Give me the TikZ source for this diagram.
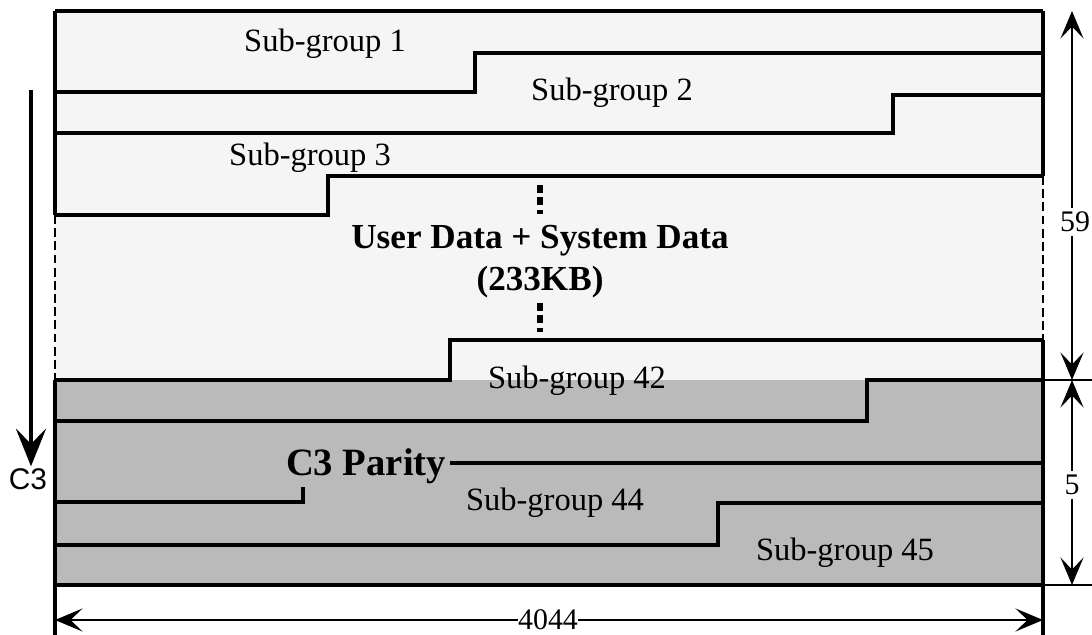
\documentclass[tikz,border=0pt]{standalone}
\usepackage{fontspec}
\setmainfont{Liberation Serif}
\setsansfont{Liberation Sans}
\usetikzlibrary{arrows.meta}

\begin{document}
\begin{tikzpicture}[x=0.2mm,y=-0.2mm,>={Stealth[length=5.5mm,width=4.6mm,inset=2.4mm]}]
    \tikzstyle{frame}=[line width=2.2pt]
    \tikzstyle{gap}=[line width=1.6pt,dash pattern=on 5pt off 2.5pt]
    \tikzstyle{dimline}=[line width=1.3pt]
    \tikzstyle{sglabel}=[inner sep=1pt,font=\fontsize{18.5}{20}\selectfont]
    \tikzstyle{dimtext}=[inner sep=2pt,font=\fontsize{17}{19}\selectfont]
    \tikzstyle{bigtext}=[inner sep=1pt,font=\bfseries\fontsize{20}{24}\selectfont,align=center]
    \tikzstyle{vdots}=[line width=3pt,dash pattern=on 4.5pt off 2.5pt]

    \useasboundingbox (0,0) rectangle (1092,635);

    \begin{scope}
      % data and parity areas
      \fill[black!4] (55,11) rectangle (1043,380);
      \fill[black!27] (55,380) rectangle (1043,585);

      % sub-group boundaries
      \draw[frame] (55,11) -- (1043,11);
      \draw[frame] (55,92) -- (475,92) -- (475,53) -- (1043,53);
      \draw[frame] (55,133) -- (893,133) -- (893,95) -- (1043,95);
      \draw[frame] (55,215) -- (328,215) -- (328,176) -- (1043,176);
      \draw[frame] (55,380) -- (450,380) -- (450,340) -- (1043,340);
      \draw[frame] (55,421) -- (867,421) -- (867,380) -- (1043,380);
      \draw[frame] (55,502) -- (303,502) -- (303,463) -- (1043,463);
      \draw[frame] (55,545) -- (718,545) -- (718,503) -- (1043,503);
      \draw[frame] (55,585) -- (1043,585);

      \draw[frame] (55,11) -- (55,215);
      \draw[gap] (55,215) -- (55,380);
      \draw[frame] (55,380) -- (55,635);
      \draw[frame] (1043,11) -- (1043,176);
      \draw[gap] (1043,176) -- (1043,340);
      \draw[frame] (1043,340) -- (1043,635);

      \draw[vdots] (540,185) -- (540,214);
      \draw[vdots] (540,303) -- (540,332);

      \node [sglabel] at (325,44) (sg1) {Sub-group 1};
      \node [sglabel] at (612,93) (sg2) {Sub-group 2};
      \node [sglabel] at (310,158) (sg3) {Sub-group 3};
      \node [bigtext] at (540,262) (userdata) {User Data + System Data\\(233KB)};
      \node [sglabel] at (577,381) (sg42) {Sub-group 42};
      \node [bigtext,font=\bfseries\fontsize{22}{24}\selectfont,fill=black!27,inner xsep=2pt,inner ysep=2pt] at (366,466) (parity) {C3 Parity};
      \node [sglabel] at (555,503) (sg44) {Sub-group 44};
      \node [sglabel] at (845,553) (sg45) {Sub-group 45};

      % C3 direction
      \coordinate (c3top) at (31,90);
      \node [dimtext,font=\sffamily\fontsize{17}{19}\selectfont,inner sep=1pt] at (28,479) (c3) {C3};
      \draw[line width=2.6pt,-{Stealth[length=7.5mm,width=6mm,inset=3mm]}] (c3top) -- (c3top |- c3.north);

      % dimensions
      \draw[dimline] (1043,380) -- (1092,380);
      \draw[dimline] (1043,585) -- (1092,585);

      \coordinate (hTop) at (1072,11);
      \coordinate (hMid) at (1072,380);
      \coordinate (hBot) at (1072,585);
      \node [dimtext] at (1075,222) (h59) {59};
      \draw[dimline,->] (hTop |- h59.north) -- (hTop);
      \draw[dimline,->] (hTop |- h59.south) -- (hMid);
      \node [dimtext] at (1072,485) (h5) {5};
      \draw[dimline,->] (h5.north) -- (hMid);
      \draw[dimline,->] (h5.south) -- (hBot);

      \coordinate (wLeft) at (55,620);
      \coordinate (wRight) at (1043,620);
      \node [dimtext,inner sep=0pt] at (548,620) (w4044) {4044};
      \draw[dimline,->] (w4044.west) -- (wLeft);
      \draw[dimline,->] (w4044.east) -- (wRight);
    \end{scope}

\end{tikzpicture}
\end{document}
